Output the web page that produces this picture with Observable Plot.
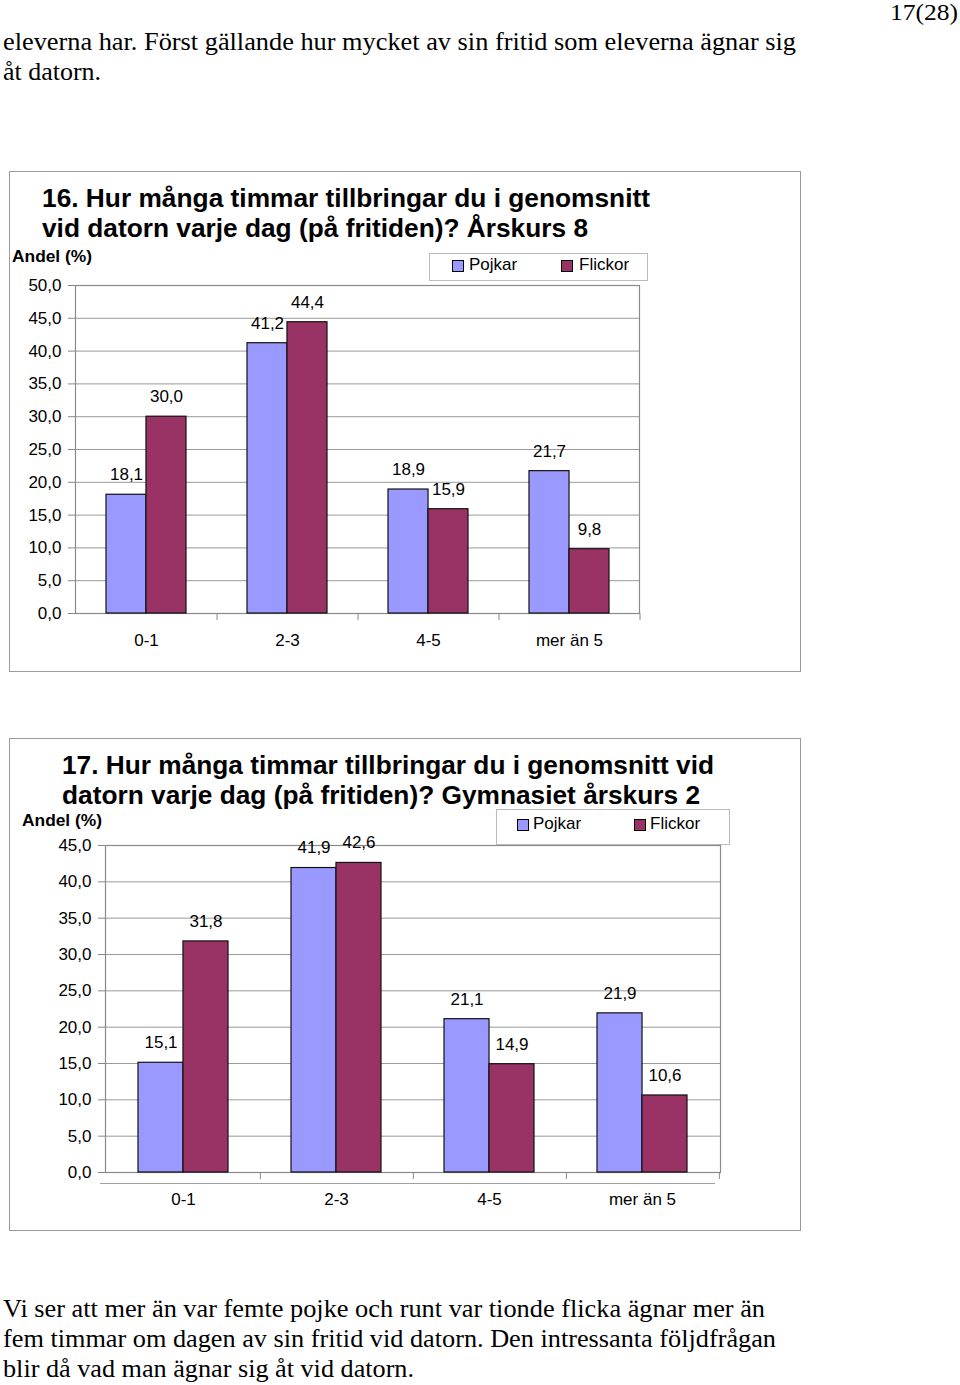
<!DOCTYPE html>
<html><head><meta charset="utf-8">
<script src="https://cdn.jsdelivr.net/npm/d3@7"></script>
<script src="https://cdn.jsdelivr.net/npm/@observablehq/plot@0.6"></script>
<style>
body{margin:0;background:#fff;}
#page{position:relative;width:960px;height:1385px;overflow:hidden;background:#fff;}
.t{position:absolute;white-space:nowrap;line-height:1;transform-origin:0 0;color:#000;}
.serif{font-family:"Liberation Serif","Times New Roman",serif;}
.sans{font-family:"Liberation Sans",Arial,sans-serif;}
.box{position:absolute;border:1.5px solid #9a9a9a;box-sizing:border-box;}
.chart{position:absolute;}
.legend{position:absolute;border:1px solid #bbb;background:#fff;box-sizing:border-box;}
.sw{position:absolute;width:12px;height:12px;border:1px solid #000;box-sizing:border-box;}
.hline{position:absolute;border-top:1.5px solid #a0a0a0;height:0;}
</style></head><body><div id="page"></div>
<script>
// ---- data ----
const categories = ["0-1", "2-3", "4-5", "mer än 5"];
const series = ["Pojkar", "Flickor"];
const pojkar8 = [18.1, 41.2, 18.9, 21.7];
const flickor8 = [30.0, 44.4, 15.9, 9.8];
const pojkarGy = [15.1, 41.9, 21.1, 21.9];
const flickorGy = [31.8, 42.6, 14.9, 10.6];
const yTicks8 = [0, 5, 10, 15, 20, 25, 30, 35, 40, 45, 50];
const yTicksGy = [0, 5, 10, 15, 20, 25, 30, 35, 40, 45];
const colors = ["#9999FF", "#993366"];

const page = document.getElementById("page");
const fmt = v => v.toFixed(1).replace(".", ",");

function addText(str, x, baseline, size, cls, weight, targetW) {
  const d = document.createElement("div");
  d.className = "t " + cls;
  d.textContent = str;
  d.style.fontSize = size + "px";
  d.style.fontWeight = weight || "normal";
  d.style.left = x + "px";
  const asc = cls === "serif" ? 0.8375 : 0.8465;
  d.style.top = (baseline - asc * size) + "px";
  page.appendChild(d);
  if (targetW) {
    const w = d.getBoundingClientRect().width;
    d.style.transform = `scaleX(${targetW / w})`;
  }
  return d;
}
function addDiv(cls, left, top, w, h, extra) {
  const d = document.createElement("div");
  d.className = cls;
  d.style.left = left + "px"; d.style.top = top + "px";
  if (w != null) d.style.width = w + "px";
  if (h != null) d.style.height = h + "px";
  Object.assign(d.style, extra || {});
  page.appendChild(d);
  return d;
}

function chart({pojkar, flickor, yMax, yTicks, width, height, ml, mr, mt, mb, pi}) {
  const rows = categories.flatMap((c, i) => [
    {cat: c, serie: "Pojkar", value: pojkar[i]},
    {cat: c, serie: "Flickor", value: flickor[i]}
  ]);
  const pRows = rows.filter(d => d.serie === "Pojkar");
  const fRows = rows.filter(d => d.serie === "Flickor");
  const step = (width - ml - mr) / categories.length;
  const half = step * (1 - pi) / 2;
  return Plot.plot({
    width, height, marginLeft: ml, marginRight: mr, marginTop: mt, marginBottom: mb,
    style: {fontFamily: "'Liberation Sans', Arial, sans-serif", fontSize: "17px", color: "#000", background: "transparent", overflow: "visible"},
    x: {type: "band", domain: categories, paddingInner: pi, paddingOuter: pi / 2},
    y: {domain: [0, yMax]},
    color: {domain: series, range: colors},
    marks: [
      Plot.gridY(yTicks, {stroke: "#9a9a9a", strokeOpacity: 1, strokeWidth: 1}),
      Plot.frame({stroke: "#8a8a8a", strokeWidth: 1.2}),
      Plot.axisY(yTicks, {tickFormat: fmt, tickSize: 7, tickPadding: 7, stroke: "#888", fill: "#000", fontSize: 17, label: null}),
      Plot.axisX({tickSize: 0, tickPadding: 20, fill: "#000", fontSize: 17, label: null}),
      Plot.ruleX(categories, {x: d => d, dx: step / 2, y1: 0, y2: 0, insetBottom: -7, stroke: "#888"}),
      Plot.barY(pRows, {x: "cat", y: "value", fill: "serie", insetRight: half, stroke: "#111", strokeWidth: 1.2}),
      Plot.barY(fRows, {x: "cat", y: "value", fill: "serie", insetLeft: half, stroke: "#111", strokeWidth: 1.2}),
      Plot.text(pRows, {x: "cat", y: "value", text: d => fmt(d.value), dx: -half / 2, dy: -20, fontSize: 17, fill: "#000"}),
      Plot.text(fRows, {x: "cat", y: "value", text: d => fmt(d.value), dx: half / 2, dy: -20, fontSize: 17, fill: "#000"})
    ]
  });
}

// ---- page text ----
addText("17(28)", 890, 20, 24, "serif", "normal", 68);
addText("eleverna har. Först gällande hur mycket av sin fritid som eleverna ägnar sig", 3, 50, 25, "serif", "normal", 793);
addText("åt datorn.", 3, 80, 25, "serif", "normal", 98);

// ---- chart 1 ----
addDiv("box", 9, 171, 792, 501);
const c1 = chart({pojkar: pojkar8, flickor: flickor8, yMax: 50, yTicks: yTicks8,
  width: 660, height: 385, ml: 75, mr: 21, mt: 10, mb: 47, pi: 0.433});
const w1 = addDiv("chart", 0, 275); w1.appendChild(c1);
addText("16. Hur många timmar tillbringar du i genomsnitt", 42, 207, 26.5, "sans", "bold", 608);
addText("vid datorn varje dag (på fritiden)? Årskurs 8", 42, 237, 26.5, "sans", "bold", 546);
addText("Andel (%)", 12, 262, 17, "sans", "bold", 80);
addDiv("legend", 429, 253, 219, 28);
addDiv("sw", 452, 260, 12, 12, {background: colors[0]});
addText(series[0], 469, 270, 17, "sans");
addDiv("sw", 561, 260, 12, 12, {background: colors[1]});
addText(series[1], 579, 270, 17, "sans");

// ---- chart 2 ----
addDiv("box", 9, 738, 792, 493);
const c2 = chart({pojkar: pojkarGy, flickor: flickorGy, yMax: 45, yTicks: yTicksGy,
  width: 740, height: 380, ml: 105, mr: 20, mt: 10, mb: 43, pi: 0.415});
const w2 = addDiv("chart", 0, 835); w2.appendChild(c2);
addDiv("hline", 100, 1183, 615, null);
addText("17. Hur många timmar tillbringar du i genomsnitt vid", 62, 774, 26.5, "sans", "bold", 652);
addText("datorn varje dag (på fritiden)? Gymnasiet årskurs 2", 62, 804, 26.5, "sans", "bold", 638);
addText("Andel (%)", 22, 826, 17, "sans", "bold", 80);
addDiv("legend", 496, 809, 234, 36);
addDiv("sw", 517, 819, 12, 12, {background: colors[0]});
addText(series[0], 533, 829, 17, "sans");
addDiv("sw", 634, 819, 12, 12, {background: colors[1]});
addText(series[1], 650, 829, 17, "sans");

// ---- bottom text ----
addText("Vi ser att mer än var femte pojke och runt var tionde flicka ägnar mer än", 3, 1317, 25, "serif", "normal", 762);
addText("fem timmar om dagen av sin fritid vid datorn. Den intressanta följdfrågan", 3, 1347, 25, "serif", "normal", 773);
addText("blir då vad man ägnar sig åt vid datorn.", 3, 1377, 25, "serif", "normal", 411);
</script></body></html>
